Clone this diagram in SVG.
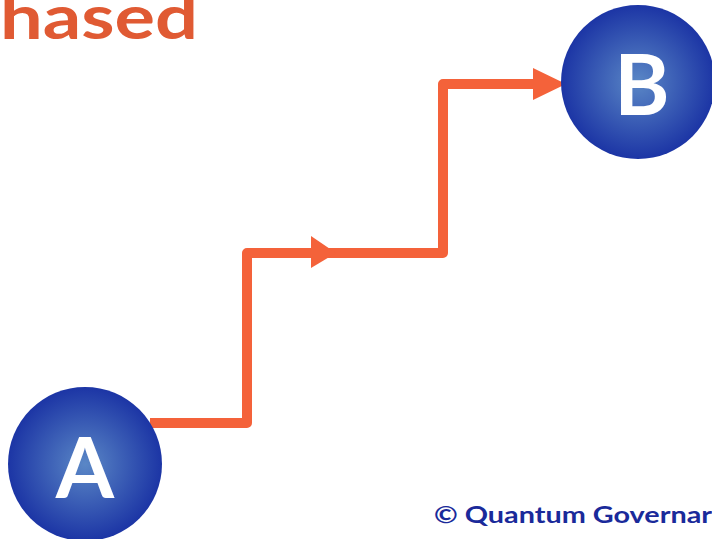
<svg xmlns="http://www.w3.org/2000/svg" width="712" height="539" viewBox="0 0 712 539">
<style>
.conn{fill:none;stroke:#F4623A;stroke-width:10;stroke-linejoin:round;stroke-linecap:butt}
.head{fill:#F4623A}
.letter{font-family:"Lato","Liberation Sans",sans-serif;font-weight:bold;font-size:84px;fill:#FFFFFF;text-anchor:middle}
.title{font-family:"Lato","Liberation Sans",sans-serif;font-weight:bold;font-size:62px;fill:#E05A33}
.copy{font-family:"Lato","Liberation Sans",sans-serif;font-weight:bold;font-size:23px;fill:#1A2A9A}
</style>
<defs>
<radialGradient id="ball" cx="50%" cy="50%" r="50%">
<stop offset="0" stop-color="#5A87C6"/>
<stop offset="1" stop-color="#1C35A5"/>
</radialGradient>
</defs>
<text class="title" x="0" y="39" textLength="198" lengthAdjust="spacingAndGlyphs">hased</text>
<g id="connectors">
<polyline class="conn" points="150,423 247,423 247,253 443,253 443,84 540,84"/>
<polygon class="head" points="311,236 336,253 311,268"/>
<polygon class="head" points="533,68 566,84 533,100"/>
</g>
<g id="node-A">
<circle cx="85" cy="464" r="77" fill="url(#ball)"/>
<text class="letter" x="85" y="498">A</text>
</g>
<g id="node-B">
<circle cx="638" cy="82" r="77" fill="url(#ball)"/>
<text class="letter" x="642" y="115">B</text>
</g>
<text class="copy" x="434" y="523" textLength="278" lengthAdjust="spacingAndGlyphs">© Quantum Governar</text>
</svg>
